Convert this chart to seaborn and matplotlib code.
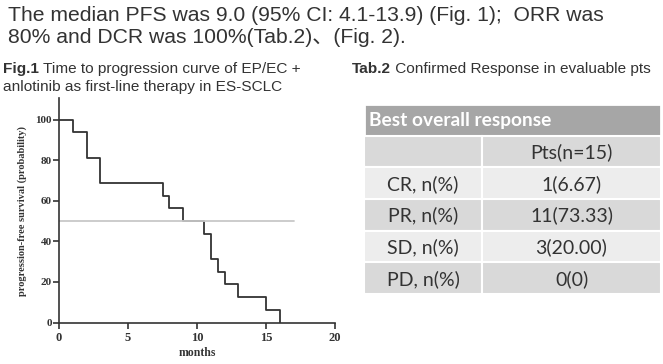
import numpy as np
import pandas as pd
import seaborn as sns
import matplotlib.pyplot as plt

# KM curve (n=16)
months = [0, 1, 2, 3, 7.5, 8, 9, 10.5, 11, 11.5, 12, 13, 15, 16]
pfs = [100, 93.75, 81.25, 68.75, 62.5, 56.25, 50, 43.75, 31.25, 25, 18.75, 12.5, 6.25, 0]
median_x = [0, 17]
median_y = [50, 50]

# table
tab_header = "Best overall response"
tab_rows = ["", "CR, n(%)", "PR, n(%)", "SD, n(%)", "PD, n(%)"]
tab_vals = ["Pts(n=15)", "1(6.67)", "11(73.33)", "3(20.00)", "0(0)"]

sns.set_theme(style="white")
plt.rcParams['font.family'] = ['Liberation Sans', 'Noto Sans CJK SC', 'DejaVu Sans']

fig = plt.figure(figsize=(6.63, 3.64), dpi=100)
W, H = 663, 364

def box(l, t, r, b):
    return [l / W, 1 - b / H, (r - l) / W, (b - t) / H]

def caption(x, y, bold, rest, size):
    # bold label followed by normal text
    t = fig.text(x / W, 1 - y / H, bold, fontsize=size, fontweight='bold',
                 color='#333333', va='baseline')
    fig.canvas.draw()
    ext = t.get_window_extent()
    fig.text(ext.x1 / W, 1 - y / H, " " + rest, fontsize=size, color='#333333',
             va='baseline')

# text at top
fig.text(8 / W, 1 - 21 / H, "The median PFS was 9.0 (95% CI: 4.1-13.9) (Fig. 1);  ORR was",
         fontsize=15.2, color='#333333', va='baseline')
fig.text(8 / W, 1 - 43 / H, "80% and DCR was 100%(Tab.2)、(Fig. 2).",
         fontsize=15.2, color='#333333', va='baseline')
caption(3, 73, "Fig.1", "Time to progression curve of EP/EC +", 11.1)
fig.text(3 / W, 1 - 91 / H, "anlotinib as first-line therapy in ES-SCLC",
         fontsize=11.1, color='#333333', va='baseline')
caption(352, 73, "Tab.2", "Confirmed Response in evaluable pts", 11.1)

# KM plot
ax = fig.add_axes(box(59, 98.5, 335, 322.5))
df = pd.DataFrame({'months': months, 'pfs': pfs})
sns.lineplot(data=df, x='months', y='pfs', drawstyle='steps-post', color='#333333',
             linewidth=1.3, ax=ax)
sns.lineplot(x=median_x, y=median_y, color='#c8c8c8', linewidth=1.3, ax=ax)
ax.set_xlim(0, 20)
ax.set_ylim(0, 110.5)
ax.set_xticks([0, 5, 10, 15, 20])
ax.set_yticks([0, 20, 40, 60, 80, 100])
sns.despine(ax=ax)
for s in ['left', 'bottom']:
    ax.spines[s].set_color('#333333')
    ax.spines[s].set_linewidth(1.2)
ax.tick_params(axis='both', length=4, width=1.2, color='#333333', direction='out',
               left=True, bottom=True)
ax.tick_params(axis='y', labelsize=8, pad=1)
ax.tick_params(axis='x', labelsize=9, pad=3)
for lab in ax.get_xticklabels() + ax.get_yticklabels():
    lab.set_family('Liberation Serif')
    lab.set_fontweight('bold')
    lab.set_color('#333333')
ax.set_xlabel('months', family='Liberation Serif', fontweight='bold', fontsize=8.5,
              color='#333333', labelpad=2)
ax.set_ylabel('progression-free survival (probability)', family='Liberation Serif',
              fontweight='bold', fontsize=7.5, color='#333333', labelpad=6)

# table
tx = fig.add_axes(box(364, 104, 661, 294))
n = len(tab_rows) + 1
row_colors = ['#d9d9d9', '#ededed', '#d9d9d9', '#ededed', '#d9d9d9']
split = (482 - 364) / (661 - 364)
tx.barh([0], [1], left=0, height=1, color='#a6a6a6', edgecolor='white', linewidth=2)
rows_y = np.arange(1, n)
tx.barh(rows_y, [split] * (n - 1), left=0, height=1, color=row_colors,
        edgecolor='white', linewidth=1.5)
tx.barh(rows_y, [1 - split] * (n - 1), left=split, height=1, color=row_colors,
        edgecolor='white', linewidth=1.5)
tx.set_xlim(0, 1)
tx.set_ylim(n - 0.5, -0.5)
tx.axis('off')
tx.text(0.018, 0.02, tab_header, color='white', fontsize=13.8, fontweight='bold',
        family='Lato', va='center', ha='left')
for i, (r, v) in enumerate(zip(tab_rows, tab_vals)):
    tx.text(split / 2, i + 1.02, r, color='#333333', fontsize=14, family='Lato',
            va='center', ha='center')
    tx.text(split + (1 - split) / 2, i + 1.02, v, color='#333333', fontsize=14,
            family='Lato', va='center', ha='center')

fig.savefig('out.png', dpi=100)
